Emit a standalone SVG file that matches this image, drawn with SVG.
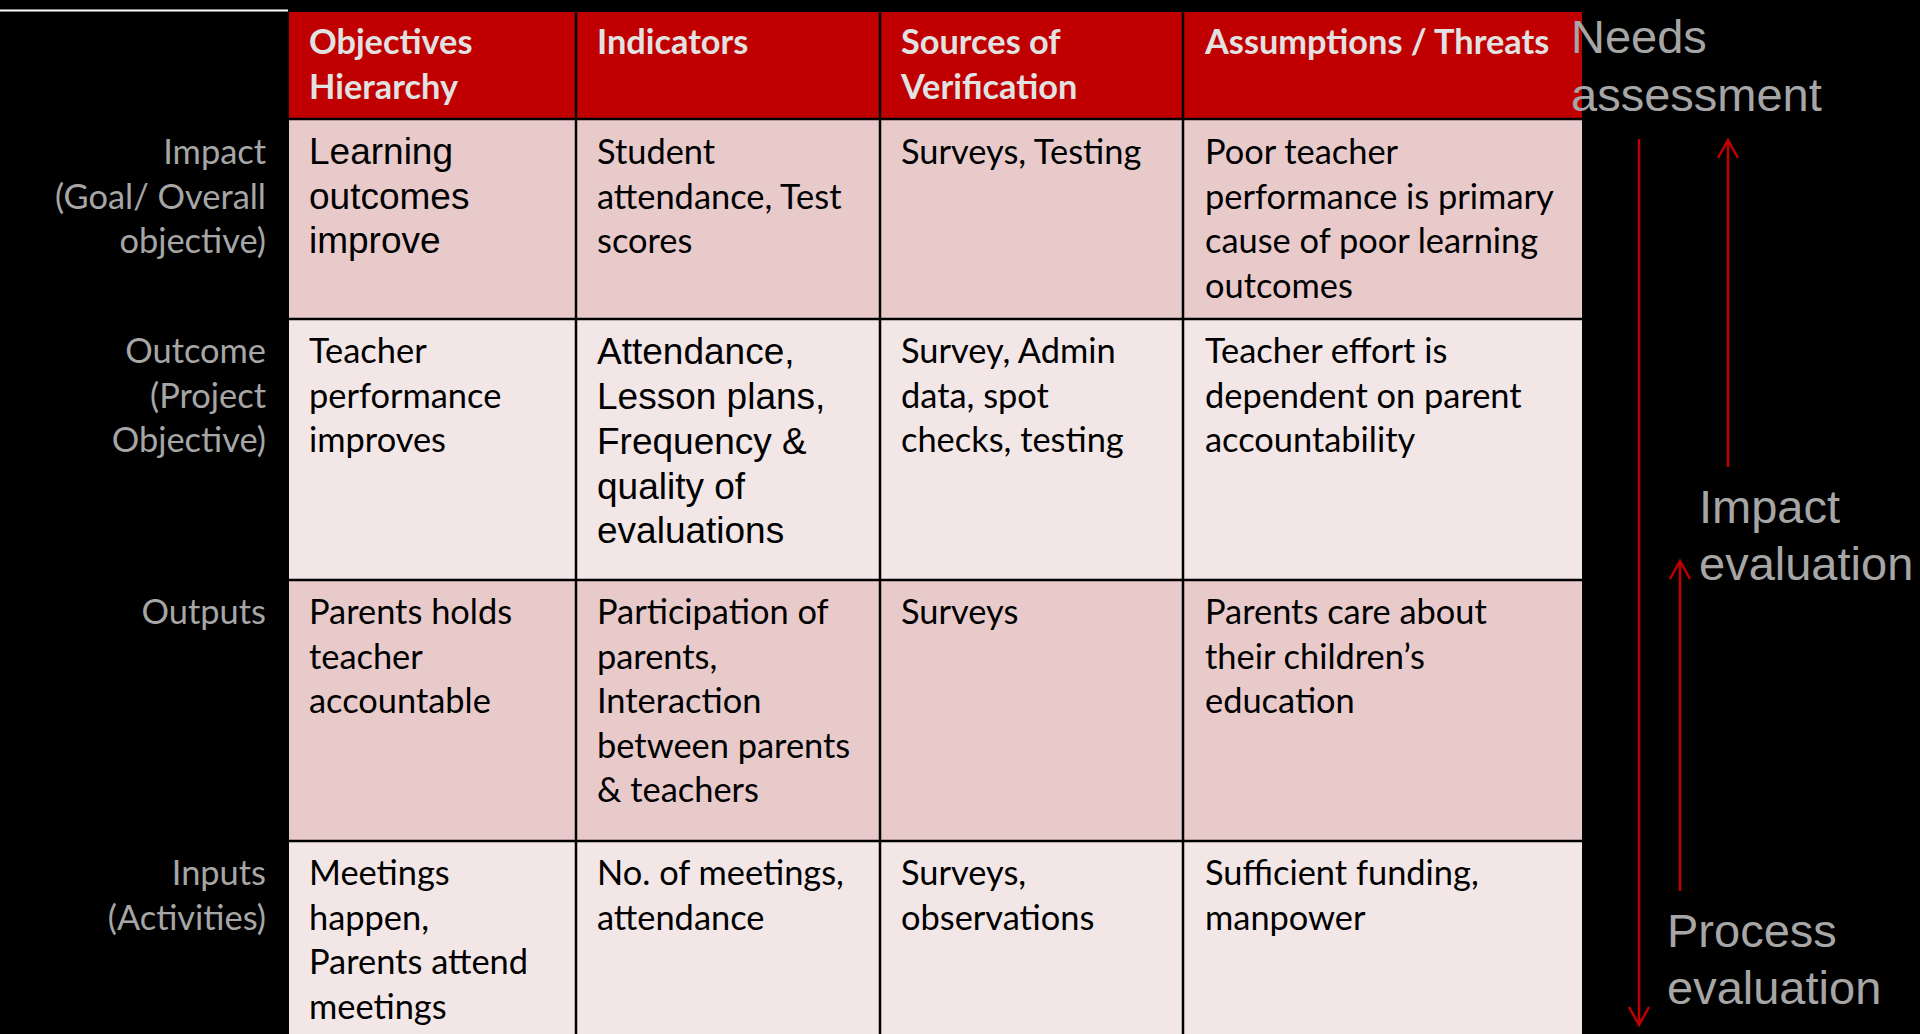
<svg xmlns="http://www.w3.org/2000/svg" width="1920" height="1034" viewBox="0 0 1920 1034">
<defs>
<style>
.hdr{font-family:Lato,"Open Sans",sans-serif;font-weight:bold;font-size:34.3px;fill:#E2E2E2}
.bd{font-family:Lato,"Open Sans",sans-serif;font-size:34.4px;fill:#000}
.ar{font-family:"Liberation Sans",Arial,sans-serif;font-size:37px;fill:#000}
.lbl{font-family:Lato,"Open Sans",sans-serif;font-size:34.4px;fill:#A6A6A6;text-anchor:end}
.side{font-family:"Liberation Sans",Arial,sans-serif;font-size:47px;fill:#A6A6A6}
.dark{fill:#E8CACB}
.light{fill:#F3E6E6}
.red{fill:#C00000}
.grid{stroke:#000;stroke-width:2.5;fill:none}
.arr{stroke:#C00000;stroke-width:2.5;fill:none}
</style>
</defs>
<rect x="0" y="0" width="1920" height="1034" fill="#000"/>
<line x1="0" y1="10.5" x2="288" y2="10.5" stroke="#FFFFFF" stroke-width="2"/>

<g id="header">
<rect class="red" x="289" y="12" width="1293" height="107"/>
<text class="hdr" x="309" y="54">Objectives</text>
<text class="hdr" x="309" y="99">Hierarchy</text>
<text class="hdr" x="597" y="54">Indicators</text>
<text class="hdr" x="901" y="54">Sources of</text>
<text class="hdr" x="901" y="99">Verification</text>
<text class="hdr" x="1205" y="54">Assumptions / Threats</text>
</g>

<g id="row-impact">
<rect class="dark" x="289" y="119" width="1293" height="200"/>
<text class="lbl" x="266" y="164">Impact</text>
<text class="lbl" x="266" y="208.5">(Goal/ Overall</text>
<text class="lbl" x="266" y="253">objective)</text>
<text class="ar" x="309" y="164">Learning</text>
<text class="ar" x="309" y="208.5">outcomes</text>
<text class="ar" x="309" y="253">improve</text>
<text class="bd" x="597" y="164">Student</text>
<text class="bd" x="597" y="208.5">attendance, Test</text>
<text class="bd" x="597" y="253">scores</text>
<text class="bd" x="901" y="164">Surveys, Testing</text>
<text class="bd" x="1205" y="164">Poor teacher</text>
<text class="bd" x="1205" y="208.5">performance is primary</text>
<text class="bd" x="1205" y="253">cause of poor learning</text>
<text class="bd" x="1205" y="297.5">outcomes</text>
</g>

<g id="row-outcome">
<rect class="light" x="289" y="319" width="1293" height="261"/>
<text class="lbl" x="266" y="363">Outcome</text>
<text class="lbl" x="266" y="407.5">(Project</text>
<text class="lbl" x="266" y="452">Objective)</text>
<text class="bd" x="309" y="363">Teacher</text>
<text class="bd" x="309" y="407.5">performance</text>
<text class="bd" x="309" y="452">improves</text>
<text class="ar" x="597" y="364">Attendance,</text>
<text class="ar" x="597" y="409">Lesson plans,</text>
<text class="ar" x="597" y="454">Frequency &amp;</text>
<text class="ar" x="597" y="499">quality of</text>
<text class="ar" x="597" y="543">evaluations</text>
<text class="bd" x="901" y="363">Survey, Admin</text>
<text class="bd" x="901" y="407.5">data, spot</text>
<text class="bd" x="901" y="452">checks, testing</text>
<text class="bd" x="1205" y="363">Teacher effort is</text>
<text class="bd" x="1205" y="407.5">dependent on parent</text>
<text class="bd" x="1205" y="452">accountability</text>
</g>

<g id="row-outputs">
<rect class="dark" x="289" y="580" width="1293" height="261"/>
<text class="lbl" x="266" y="624">Outputs</text>
<text class="bd" x="309" y="624">Parents holds</text>
<text class="bd" x="309" y="668.5">teacher</text>
<text class="bd" x="309" y="713">accountable</text>
<text class="bd" x="597" y="624">Participation of</text>
<text class="bd" x="597" y="668.5">parents,</text>
<text class="bd" x="597" y="713">Interaction</text>
<text class="bd" x="597" y="757.5">between parents</text>
<text class="bd" x="597" y="802">&amp; teachers</text>
<text class="bd" x="901" y="624">Surveys</text>
<text class="bd" x="1205" y="624">Parents care about</text>
<text class="bd" x="1205" y="668.5">their children’s</text>
<text class="bd" x="1205" y="713">education</text>
</g>

<g id="row-inputs">
<rect class="light" x="289" y="841" width="1293" height="200"/>
<text class="lbl" x="266" y="885">Inputs</text>
<text class="lbl" x="266" y="929.5">(Activities)</text>
<text class="bd" x="309" y="885">Meetings</text>
<text class="bd" x="309" y="929.5">happen,</text>
<text class="bd" x="309" y="974">Parents attend</text>
<text class="bd" x="309" y="1018.5">meetings</text>
<text class="bd" x="597" y="885">No. of meetings,</text>
<text class="bd" x="597" y="929.5">attendance</text>
<text class="bd" x="901" y="885">Surveys,</text>
<text class="bd" x="901" y="929.5">observations</text>
<text class="bd" x="1205" y="885">Sufficient funding,</text>
<text class="bd" x="1205" y="929.5">manpower</text>
</g>

<g id="grid">
<line class="grid" x1="576" y1="12" x2="576" y2="1034"/>
<line class="grid" x1="880" y1="12" x2="880" y2="1034"/>
<line class="grid" x1="1183" y1="12" x2="1183" y2="1034"/>
<line class="grid" x1="289" y1="119" x2="1582" y2="119"/>
<line class="grid" x1="289" y1="319" x2="1582" y2="319"/>
<line class="grid" x1="289" y1="580" x2="1582" y2="580"/>
<line class="grid" x1="289" y1="841" x2="1582" y2="841"/>
</g>

<g id="side-labels">
<text class="side" x="1571" y="53">Needs</text>
<text class="side" x="1571" y="111">assessment</text>
<text class="side" x="1699" y="523">Impact</text>
<text class="side" x="1699" y="580">evaluation</text>
<text class="side" x="1667" y="947">Process</text>
<text class="side" x="1667" y="1004">evaluation</text>
</g>

<g id="connectors">
<line class="arr" x1="1639" y1="139" x2="1639" y2="1024"/>
<polyline class="arr" points="1629,1007 1639,1025 1649,1007"/>
<line class="arr" x1="1728" y1="141" x2="1728" y2="467"/>
<polyline class="arr" points="1718,158 1728,140 1738,158"/>
<line class="arr" x1="1680" y1="562" x2="1680" y2="891"/>
<polyline class="arr" points="1670,579 1680,561 1690,579"/>
</g>
</svg>
